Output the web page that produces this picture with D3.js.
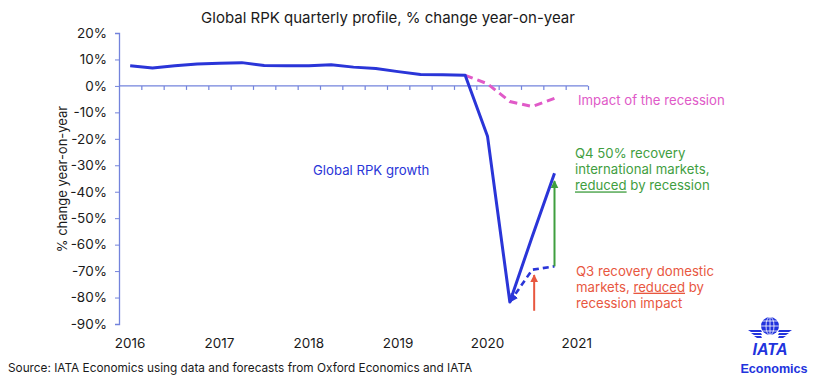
<!DOCTYPE html>
<html><head><meta charset="utf-8">
<script src="https://cdn.jsdelivr.net/npm/d3@7"></script>
<style>
body{margin:0;background:#fff;}
svg{display:block;font-family:Inter,"Noto Sans",sans-serif;}
</style></head>
<body><svg id="c" width="822" height="377"></svg>
<script>
// ---- data ----
const yearLabels = ["2016","2017","2018","2019","2020","2021"];
const nQuarters = 21; // 2016Q1 .. 2021Q1
const yTicks = [20,10,0,-10,-20,-30,-40,-50,-60,-70,-80,-90];
// Global RPK growth, quarterly 2016Q1..2020Q4
const rpkGrowth = [7.6,6.8,7.6,8.3, 8.6,8.8,7.7,7.6, 7.6,8.0,7.1,6.6, 5.4,4.3,4.2,4.0, -19,-81.7,-57,-33];
// Impact of the recession, 2019Q4..2020Q4
const recessionStart = 15;
const recessionImpact = [4.0,0.8,-5.9,-7.8,-4.7];
// Domestic recovery reduced by recession, 2020Q2..2020Q4
const domesticStart = 17;
const domesticRecovery = [-81.7,-69.5,-68.2];
// arrows (quarter index, from value, to value)
const greenArrow = {q:19, from:-68.2, to:-36};
const redArrow = {q:18, from:-85, to:-71.5};

const svg = d3.select("#c");
const x = d3.scaleLinear().domain([0,nQuarters]).range([119,588]);
const y = d3.scaleLinear().domain([-90,20]).range([324,33]);
const axisCol = "#7383dc", blue = "#2a35d8", pink = "#e05ac8", green = "#3f9e3f", red = "#e8573f";
const fs = 13.2;

// defs
const defs = svg.append("defs");
function marker(id,col,size){
  defs.append("marker").attr("id",id).attr("viewBox","0 0 10 10").attr("refX",9).attr("refY",5)
    .attr("markerWidth",size).attr("markerHeight",size).attr("orient","auto-start-reverse")
    .attr("markerUnits","userSpaceOnUse")
    .append("path").attr("d","M0,0L10,5L0,10z").attr("fill",col);
}
marker("ag",green,8); marker("ar",red,8); marker("ab",blue,9);

// title
svg.append("text").attr("x",388).attr("y",23).attr("text-anchor","middle")
  .attr("font-size",15).attr("fill","#1a1a1a").text("Global RPK quarterly profile, % change year-on-year");

// y axis
const ya = svg.append("g").attr("transform",`translate(${x(0)},0)`)
  .call(d3.axisLeft(y).tickValues(yTicks).tickSize(4).tickPadding(8).tickFormat(d=>d+"%"));
ya.select(".domain").attr("stroke",axisCol).attr("stroke-width",1.3);
ya.selectAll(".tick line").attr("stroke",axisCol);
ya.selectAll(".tick text").attr("font-size",13.5).attr("fill","#1a1a1a").attr("font-family","Inter,sans-serif");

// x axis at zero
const xa = svg.append("g").attr("transform",`translate(0,${y(0)})`)
  .call(d3.axisBottom(x).tickValues(d3.range(1,nQuarters+1)).tickSize(4).tickFormat(""));
xa.select(".domain").attr("stroke",axisCol).attr("stroke-width",1.3).attr("d",`M${x(0)},0H${x(nQuarters)}`);
xa.selectAll(".tick line").attr("stroke",axisCol).attr("stroke-width",1.2);

// year labels
svg.append("g").selectAll("text").data(yearLabels).join("text")
  .attr("x",(d,i)=>x(i*4+0.5)).attr("y",348).attr("text-anchor","middle")
  .attr("font-size",13.5).attr("fill","#1a1a1a").text(d=>d);

// y axis title
svg.append("text").attr("transform",`translate(67,179) rotate(-90)`).attr("text-anchor","middle")
  .attr("font-size",13).attr("fill","#1a1a1a").text("% change year-on-year");

const line = d3.line().x(d=>x(d[0]+0.5)).y(d=>y(d[1]));

// recession impact (pink dashed)
svg.append("path").datum(recessionImpact.map((v,i)=>[recessionStart+i,v]))
  .attr("d",line).attr("fill","none").attr("stroke",pink).attr("stroke-width",3)
  .attr("stroke-dasharray","8,5");

// domestic recovery dashed blue
svg.append("path").datum(domesticRecovery.map((v,i)=>[domesticStart+i,v]))
  .attr("d",line).attr("fill","none").attr("stroke",blue).attr("stroke-width",2.6)
  .attr("stroke-dasharray","6,4").attr("marker-start","url(#ab)");

// main line
svg.append("path").datum(rpkGrowth.map((v,i)=>[i,v]))
  .attr("d",line).attr("fill","none").attr("stroke",blue).attr("stroke-width",3)
  .attr("stroke-linejoin","round");

// arrows
svg.append("line").attr("x1",x(greenArrow.q+0.5)).attr("x2",x(greenArrow.q+0.5))
  .attr("y1",y(greenArrow.from)).attr("y2",y(greenArrow.to))
  .attr("stroke",green).attr("stroke-width",2).attr("marker-end","url(#ag)");
svg.append("line").attr("x1",x(redArrow.q+0.5)+2).attr("x2",x(redArrow.q+0.5)+2)
  .attr("y1",y(redArrow.from)).attr("y2",y(redArrow.to))
  .attr("stroke",red).attr("stroke-width",2).attr("marker-end","url(#ar)");

// annotations
svg.append("text").attr("x",313).attr("y",175).attr("font-size",fs).attr("fill",blue).text("Global RPK growth");
svg.append("text").attr("x",578).attr("y",105).attr("font-size",fs).attr("fill",pink).text("Impact of the recession");

function block(x0,y0,lines,col){
  const t = svg.append("text").attr("font-size",fs).attr("fill",col);
  lines.forEach((ln,i)=>{
    let first = true;
    ln.forEach(seg=>{
      const ts = t.append("tspan").text(seg.t);
      if(first){ ts.attr("x",x0).attr("y",y0+i*16.2); first=false; }
      if(seg.u) ts.style("text-decoration","underline");
    });
  });
}
block(575,158,[[{t:"Q4 50% recovery"}],[{t:"international markets,"}],[{t:"reduced",u:1},{t:" by recession"}]],green);
block(576,275.5,[[{t:"Q3 recovery domestic"}],[{t:"markets, "},{t:"reduced",u:1},{t:" by"}],[{t:"recession impact"}]],red);

// source
svg.append("text").attr("x",8).attr("y",372).attr("font-size",11.8).attr("fill","#1a1a1a")
  .text("Source: IATA Economics using data and forecasts from Oxford Economics and IATA");

// IATA logo
const lg = svg.append("g").attr("fill","#2233dd");
const gc = {x:770,y:326,r:9};
lg.append("circle").attr("cx",gc.x).attr("cy",gc.y).attr("r",gc.r);
const gl = svg.append("g").attr("stroke","#fff").attr("stroke-width",0.8).attr("fill","none");
gl.append("ellipse").attr("cx",gc.x).attr("cy",gc.y).attr("rx",4).attr("ry",gc.r);
gl.append("line").attr("x1",gc.x).attr("x2",gc.x).attr("y1",gc.y-gc.r).attr("y2",gc.y+gc.r);
[-5,0,5].forEach(o=>gl.append("line").attr("x1",gc.x-Math.sqrt(81-o*o)).attr("x2",gc.x+Math.sqrt(81-o*o)).attr("y1",gc.y+o).attr("y2",gc.y+o));
// wings
[0,1,2].forEach(k=>{
  const yy = 330+k*3;
  lg.append("path").attr("d",`M${748+k*3},${yy}L${761},${yy}L${762},${yy+2}L${751+k*3},${yy+2}Z`);
  lg.append("path").attr("d",`M${792-k*3},${yy}L${779},${yy}L${778},${yy+2}L${789-k*3},${yy+2}Z`);
});
svg.append("text").attr("x",770).attr("y",355).attr("text-anchor","middle").attr("font-size",16)
  .attr("font-weight",900).attr("font-style","italic").attr("fill","#2233dd")
  .attr("font-family","'Liberation Sans',Arial,sans-serif").text("IATA");
svg.append("text").attr("x",774).attr("y",373).attr("text-anchor","middle").attr("font-size",12.6)
  .attr("font-weight",700).attr("fill","#2233dd").attr("font-family","'Liberation Sans',Arial,sans-serif").text("Economics");
</script></body></html>
